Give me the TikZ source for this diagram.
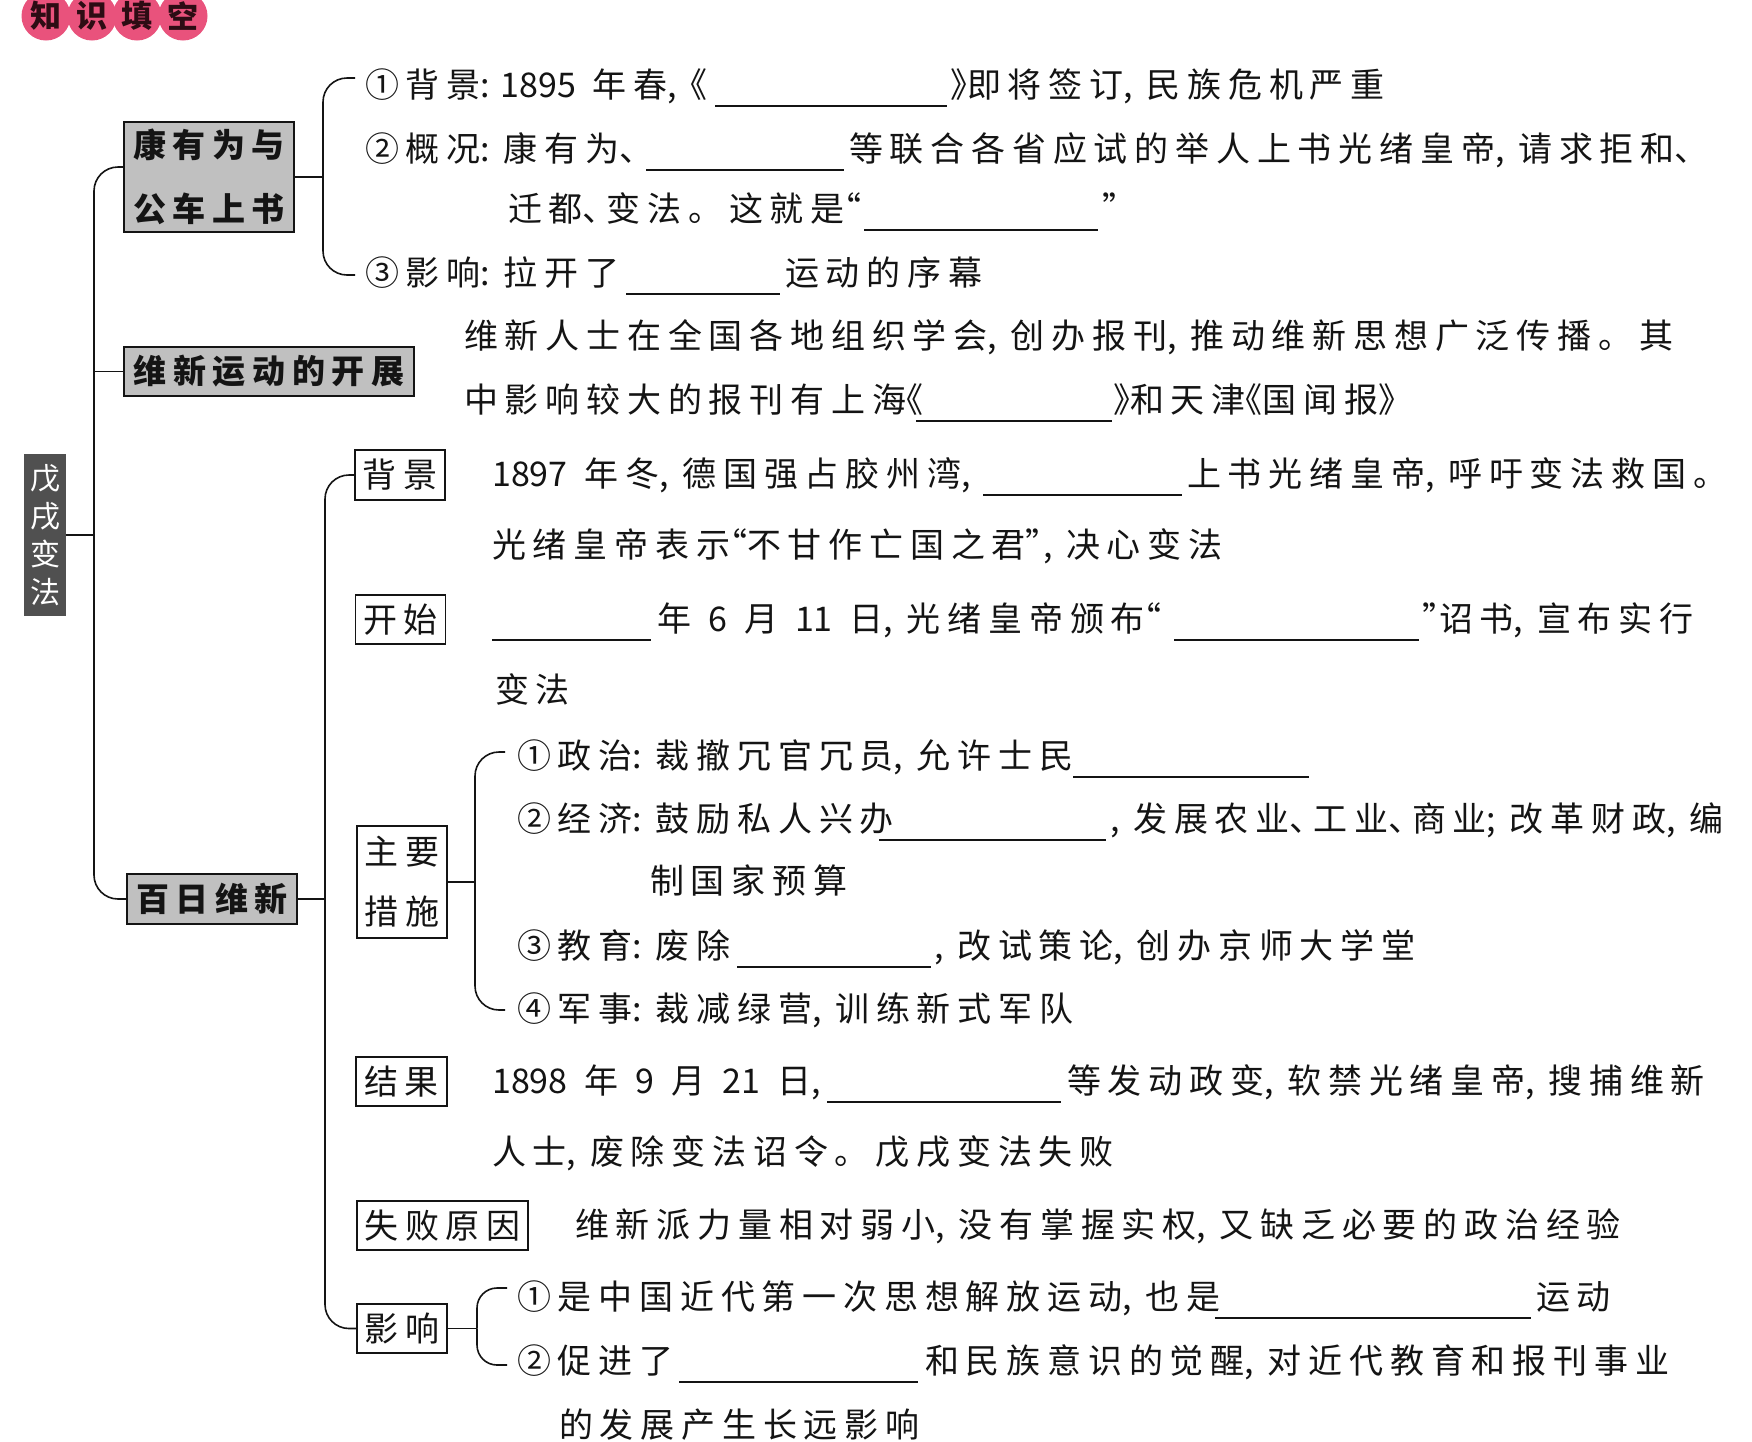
\documentclass[tikz,border=0pt]{standalone}
\usepackage{fontspec}
\setmainfont{Noto Sans CJK SC}
\newfontfamily\hwfont{Noto Sans CJK SC}[RawFeature=+halt]
\usetikzlibrary{calc}
% inter-character spacing for CJK text
\XeTeXinterchartokenstate=1
\newcount\cjkc
\def\setcls#1#2#3{\cjkc=#1\relax\loop\XeTeXcharclass\cjkc=#3\relax\advance\cjkc by 1\relax\ifnum\cjkc<#2\relax\repeat}
\setcls{"4E00}{"A000}{250}
\setcls{"3000}{"3040}{250}
\setcls{"FF01}{"FF61}{250}
\setcls{"2460}{"2474}{250}
\XeTeXcharclass`\,=251
\XeTeXcharclass`\:=251
\XeTeXcharclass`\;=251
\XeTeXinterchartoks 250 250 = {\hskip 0.2em\relax}
\XeTeXinterchartoks 251 250 = {\hskip 0.4em\relax}
\XeTeXinterchartoks 251 0 = {\hskip 0.3em\relax}
% narrow (half-width) punctuation and wide spaces
\newcommand\dun{\mbox{\hwfont 、}\hspace{0.2em}}
\newcommand\bko{\mbox{\hwfont 《}}
\newcommand\bkc{\mbox{\hwfont 》}}
\newcommand\qto{\mbox{\hwfont “}}
\newcommand\qtc{\mbox{\hwfont ”}}
\newcommand\ws{\hspace{0.5em}}
\definecolor{pinkc}{RGB}{233,82,124}
\definecolor{hdtext}{RGB}{45,12,20}
\definecolor{boxgray}{RGB}{192,192,192}
\definecolor{rootgray}{RGB}{80,80,80}
\definecolor{ink}{RGB}{20,20,20}
\newcommand\bodyfont{\fontsize{34}{40}\selectfont}
\begin{document}
\begin{tikzpicture}[x=1pt,y=-1pt,
  tx/.style={anchor=base west, inner sep=0pt, yshift=-13pt, font=\bodyfont, text=ink},
  conn/.style={line width=1.6pt, rounded corners=24pt, draw=ink},
  conns/.style={line width=1.6pt, rounded corners=20pt, draw=ink},
  plain/.style={line width=1.6pt, draw=ink},
  blank/.style={line width=1.3pt, draw=ink},
  lbl/.style={draw=ink, line width=1.4pt, inner sep=0pt, font=\bodyfont, align=center, text=ink},
  gbox/.style={lbl, fill=boxgray, font=\bodyfont\bfseries},
  hd/.style={circle, fill=pinkc, minimum size=49pt, inner sep=0pt},
  hdt/.style={inner sep=0pt, font=\fontsize{31}{36}\selectfont\bfseries, text=hdtext}
]
\useasboundingbox (0,0) rectangle (1752,1441);
\fill[white] (0,0) rectangle (1752,1441);

% header
\node[hd] (h1) at (46,16) {};
\node[hd] (h2) at (92,16) {};
\node[hd] (h3) at (137,16) {};
\node[hd] (h4) at (183,16) {};
\node[hdt] (h1t) at (h1) {知};
\node[hdt] (h2t) at (h2) {识};
\node[hdt] (h3t) at (h3) {填};
\node[hdt] (h4t) at (h4) {空};

% boxes
\node[lbl, draw=rootgray, fill=rootgray, text=white, minimum width=40pt, minimum height=160pt, font=\fontsize{30}{38}\selectfont] (root) at (45,535) {戊\\戌\\变\\法};
\node[gbox, minimum width=170pt, minimum height=110pt, font=\fontsize{33}{64}\selectfont\bfseries] (kang) at (209,177) {康有为与\\公车上书};
\node[gbox, minimum width=290pt, minimum height=49pt, font=\fontsize{33}{40}\selectfont\bfseries] (wx) at (269,371.5) {维新运动的开展};
\node[gbox, minimum width=170pt, minimum height=50pt, font=\fontsize{33}{40}\selectfont\bfseries] (br) at (212,899) {百日维新};
\node[lbl, minimum width=90pt, minimum height=50pt] (bg) at (400,475) {背景};
\node[lbl, minimum width=90pt, minimum height=49pt] (ks) at (400.5,619.5) {开始};
\node[lbl, minimum width=90pt, minimum height=112pt, font=\fontsize{34}{60}\selectfont] (zy) at (402,882) {主要\\措施};
\node[lbl, minimum width=91pt, minimum height=49pt] (jg) at (401.5,1081.5) {结果};
\node[lbl, minimum width=171pt, minimum height=49pt] (sb) at (442.5,1225.5) {失败原因};
\node[lbl, minimum width=90pt, minimum height=49pt] (yx) at (402,1328.5) {影响};

% trunk 1
\coordinate (t1) at (94,535);
\draw[plain] (root.east) -- (root.east -| t1);
\draw[conn] ($(kang.west)+(0,-10)$) -| (t1);
\draw[conn] (t1) |- (br.west);
\draw[plain] (wx.west) -- (wx.west -| t1);

% trunk 2
\coordinate (t2) at (325,899);
\draw[plain] (br.east) -- (t2);
\draw[conn] (bg.west) -| (t2);
\draw[conn] (t2) |- (yx.west);

% bracket 1
\coordinate (b1) at (323,177);
\coordinate (b1t) at (355,78);
\coordinate (b1b) at (355,275);
\draw[plain] (kang.east) -- (b1);
\draw[conn] (b1t) -| (b1);
\draw[conn] (b1) |- (b1b);

% bracket 2
\coordinate (b2) at (475,882);
\coordinate (b2t) at (505,752);
\coordinate (b2b) at (505,1010);
\draw[plain] (zy.east) -- (b2);
\draw[conn] (b2t) -| (b2);
\draw[conn] (b2) |- (b2b);

% bracket 3
\coordinate (b3) at (477,1328.5);
\coordinate (b3t) at (507,1288);
\coordinate (b3b) at (507,1365);
\draw[plain] (yx.east) -- (b3);
\draw[conns] (b3t) -| (b3);
\draw[conns] (b3) |- (b3b);

% texts: 康有为与公车上书
\node[tx] (l1a) at (365,84) {①背景:1895\ws 年春,\hspace{0.4em}\bko};
\draw[blank] (715,106) -- (947,106);
\node[tx] (l1b) at (950,84) {\bkc 即将签订,民族危机严重};

\node[tx] (l2a) at (365,148) {②概况:康有为\dun};
\draw[blank] (646,170) -- (844,170);
\node[tx] (l2b) at (849,148) {等联合各省应试的举人上书光绪皇帝,请求拒和\dun};

\node[tx] (l3a) at (508,208) {迁都\dun 变法。这就是\qto};
\draw[blank] (864,230) -- (1098,230);
\node[tx] (l3b) at (1102,208) {\qtc};

\node[tx] (l4a) at (365,272) {③影响:拉开了};
\draw[blank] (626,294) -- (780,294);
\node[tx] (l4b) at (785,272) {运动的序幕};

% 维新运动的开展
\node[tx] (l5) at (464,335) {维新人士在全国各地组织学会,创办报刊,推动维新思想广泛传播。其};
\node[tx] (l6a) at (464,399) {中影响较大的报刊有上海\bko};
\draw[blank] (916,421) -- (1112,421);
\node[tx] (l6b) at (1113,399) {\bkc 和天津\bko 国闻报\bkc};

% 背景
\node[tx] (l7a) at (492,473) {1897\ws 年冬,德国强占胶州湾,};
\draw[blank] (983,495) -- (1182,495);
\node[tx] (l7b) at (1187,473) {上书光绪皇帝,呼吁变法救国。};
\node[tx] (l8) at (492,544) {光绪皇帝表示\qto 不甘作亡国之君\qtc,决心变法};

% 开始
\draw[blank] (492,640) -- (651,640);
\node[tx] (l9a) at (657,618) {年\ws 6\ws 月\ws 11\ws 日,光绪皇帝颁布\qto};
\draw[blank] (1174,640) -- (1419,640);
\node[tx] (l9b) at (1422,618) {\qtc 诏书,宣布实行};
\node[tx] (l10) at (495,689) {变法};

% 主要措施
\node[tx] (l11) at (517,755) {①政治:裁撤冗官冗员,允许士民};
\draw[blank] (1073,777) -- (1309,777);
\node[tx] (l12a) at (517,818) {②经济:鼓励私人兴办};
\draw[blank] (879,840) -- (1106,840);
\node[tx] (l12b) at (1110,818) {,发展农业\dun 工业\dun 商业;改革财政,编};
\node[tx] (l13) at (650,880) {制国家预算};
\node[tx] (l14a) at (517,945) {③教育:废除};
\draw[blank] (737,967) -- (931,967);
\node[tx] (l14b) at (934,945) {,改试策论,创办京师大学堂};
\node[tx] (l15) at (517,1008) {④军事:裁减绿营,训练新式军队};

% 结果
\node[tx] (l16a) at (492,1080) {1898\ws 年\ws 9\ws 月\ws 21\ws 日,};
\draw[blank] (827,1102) -- (1061,1102);
\node[tx] (l16b) at (1067,1080) {等发动政变,软禁光绪皇帝,搜捕维新};
\node[tx] (l17) at (492,1151) {人士,废除变法诏令。戊戌变法失败};

% 失败原因
\node[tx] (l18) at (575,1224) {维新派力量相对弱小,没有掌握实权,又缺乏必要的政治经验};

% 影响
\node[tx] (l19a) at (517,1296) {①是中国近代第一次思想解放运动,也是};
\draw[blank] (1215,1318) -- (1531,1318);
\node[tx] (l19b) at (1536,1296) {运动};
\node[tx] (l20a) at (517,1360) {②促进了};
\draw[blank] (679,1382) -- (918,1382);
\node[tx] (l20b) at (925,1360) {和民族意识的觉醒,对近代教育和报刊事业};
\node[tx] (l21) at (559,1424) {的发展产生长远影响};
\end{tikzpicture}
\end{document}
